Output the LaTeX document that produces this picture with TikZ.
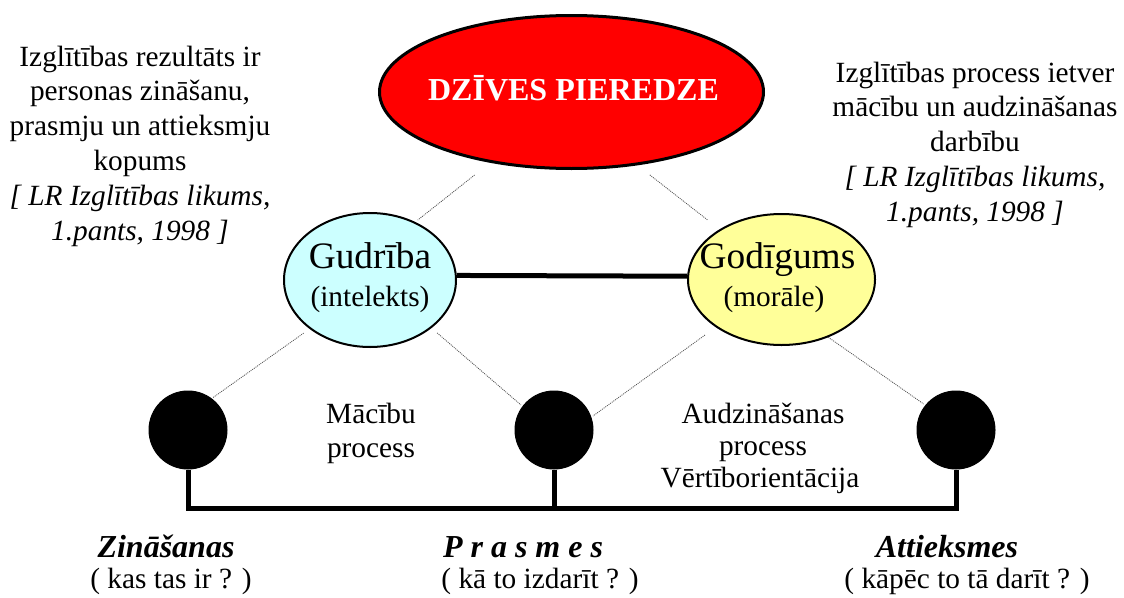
\documentclass[tikz,border=0pt]{standalone}
\usepackage{fontspec}
\setmainfont{Liberation Serif}
\usetikzlibrary{shapes.geometric}
\definecolor{lifered}{RGB}{255,0,0}
\definecolor{wisecyan}{RGB}{204,255,255}
\definecolor{moralyellow}{RGB}{255,255,153}
\definecolor{dotgray}{RGB}{80,80,80}
\newcommand{\mainsz}{\fontsize{29.33}{34.8}\selectfont}
\newcommand{\bigsz}{\fontsize{37.33}{44}\selectfont}
\newcommand{\headsz}{\fontsize{32}{38}\selectfont\bfseries}
\newcommand{\labsz}{\fontsize{32}{38}\selectfont\bfseries\itshape}
\begin{document}
\begin{tikzpicture}[x=1pt,y=-1pt,
  oval/.style={ellipse, draw=black, inner sep=0pt},
  knob/.style={circle, fill=black, draw=black, line width=1pt, minimum size=78pt, inner sep=0pt},
  txt/.style={inner sep=0pt, anchor=base, font=\mainsz},
  dotline/.style={draw=dotgray, line width=0.8pt, dash pattern=on 1pt off 1pt},
  bar/.style={line width=5pt}]
\useasboundingbox (0,0) rectangle (1124,597);

% main ovals
\node[oval, fill=lifered, line width=3pt, minimum width=384pt, minimum height=153pt] (life) at (571.5,92) {};
\node[txt, text=white, font=\headsz] (lifet) at (573.5,100.5) {DZĪVES PIEREDZE};

\node[oval, fill=wisecyan, line width=2pt, minimum width=172pt, minimum height=134pt] (wis) at (370,280) {};
\node[txt, font=\bigsz] (wist) at (370,268.3) {Gudrība};
\node[txt] (wisp) at (370,306.5) {(intelekts)};

\node[oval, fill=moralyellow, line width=2pt, minimum width=187pt, minimum height=131pt] (god) at (781.5,279.5) {};
\node[txt, font=\bigsz] (godt) at (777.5,268.3) {Godīgums};
\node[txt] (godp) at (774,306) {(morāle)};

% knobs
\node[knob] (k1) at (188,430) {};
\node[knob] (k2) at (554,430) {};
\node[knob] (k3) at (956,430) {};

% connectors
\draw[line width=5pt] (wis.3) -- (god.178);
\draw[dotline, shorten <=19.8pt, shorten >=3pt] (life.221) -- (wis.52);
\draw[dotline, shorten <=15.6pt, shorten >=15.5pt] (life.312) -- (god.141);
\draw[dotline, shorten <=7.3pt, shorten >=1pt] (wis.219) -- (k1.53);
\draw[dotline, shorten <=7.4pt, shorten >=2pt] (wis.322) -- (k2.143);
\draw[dotline, shorten <=13.3pt, shorten >=2pt] (god.216) -- (k2.19);
\draw[dotline, shorten >=2pt] (god.309) -- (k3.141);

\coordinate (bus) at (555,508);
\draw[bar] (k1.south) |- (bus) -| (k3.south);
\draw[bar] (k2.south) -- (k2.south |- bus);

% text blocks
\node[txt] (lefttxt) at (140,66) {\begin{tabular}[t]{@{}c@{}}Izglītības rezultāts ir\\ personas zināšanu,\\ prasmju un attieksmju\\ kopums\\ \textit{[ LR Izglītības likums,}\\ \textit{1.pants, 1998 ]}\end{tabular}};
\node[txt] (righttxt) at (975,82) {\begin{tabular}[t]{@{}c@{}}Izglītības process ietver\\ mācību un audzināšanas\\ darbību\\ \textit{[ LR Izglītības likums,}\\ \textit{1.pants, 1998 ]}\end{tabular}};

\node[txt] (teach) at (371,423) {\begin{tabular}[t]{@{}c@{}}Mācību\\ process\end{tabular}};
\node[txt] (raise) at (763,423) {Audzināšanas};
\node[txt] (raiseb) at (763,455) {process};
\node[txt] (values) at (760,487) {Vērtīborientācija};

% bottom labels
\node[txt, font=\labsz] (kn) at (166,557) {Zināšanas};
\node[txt] (knq) at (171,588) {( kas tas ir ? )};
\node[txt, font=\labsz] (sk) at (523,557) {P r a s m e s};
\node[txt] (skq) at (540,588) {( kā to izdarīt ? )};
\node[txt, font=\labsz] (at) at (947,557) {Attieksmes};
\node[txt] (atq) at (967,588) {( kāpēc to tā darīt ? )};
\end{tikzpicture}
\end{document}
